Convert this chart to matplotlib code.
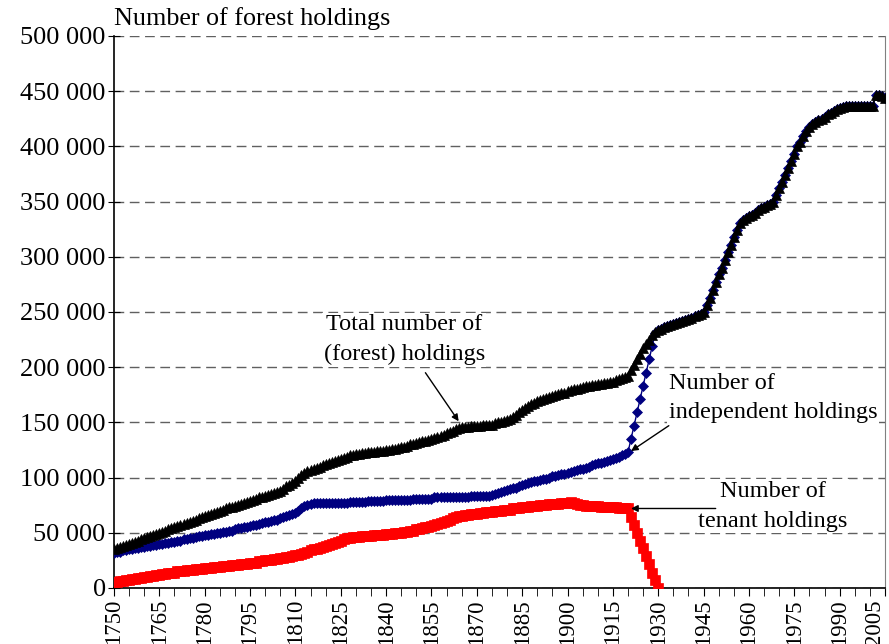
import matplotlib.pyplot as plt
from matplotlib.ticker import FuncFormatter, MultipleLocator, FixedLocator

plt.rcParams['font.family'] = ['Liberation Serif', 'DejaVu Serif']

years = list(range(1750, 2006))
tenant_years = list(range(1750, 1931))

# Total number of (forest) holdings, thousands, one row per decade
total_k = [
    35, 36, 37, 38, 39, 40, 41, 42, 43, 44,            # 1750
    45, 46, 47, 48, 49, 50, 51, 52, 53, 54,            # 1760
    55, 56, 57, 58, 59, 60, 61, 62, 63, 64,            # 1770
    65, 66, 67, 68, 69, 70, 71, 72, 73, 73,            # 1780
    74, 75, 76, 77, 78, 79, 80, 81, 82, 82,            # 1790
    83, 84, 85, 86, 87, 88, 90, 92, 93, 95,            # 1800
    97, 100, 102, 104, 106, 107, 108, 109, 110, 111,   # 1810
    112, 113, 114, 115, 116, 117, 118, 119, 120, 120,  # 1820
    121, 121, 122, 122, 123, 123, 123, 124, 124, 124,  # 1830
    125, 125, 126, 126, 127, 128, 128, 129, 130, 130,  # 1840
    131, 132, 133, 133, 134, 135, 136, 137, 138, 139,  # 1850
    140, 141, 142, 144, 145, 146, 146, 146, 147, 147,  # 1860
    147, 147, 148, 148, 148, 148, 149, 150, 150, 151,  # 1870
    152, 153, 155, 157, 159, 161, 163, 165, 167, 168,  # 1880
    169, 170, 171, 172, 173, 174, 175, 176, 177, 177,  # 1890
    178, 179, 180, 180, 181, 182, 183, 183, 184, 184,  # 1900
    185, 185, 186, 186, 187, 187, 188, 189, 190, 191,  # 1910
    192, 197, 202, 207, 212, 217, 221, 225, 229, 232,  # 1920
    234, 235, 236, 237, 238, 239, 240, 241, 242, 243,  # 1930
    244, 245, 246, 247, 248, 250, 256, 263, 270, 277,  # 1940
    284, 290, 297, 304, 311, 318, 324, 331, 333, 335,  # 1950
    337, 338, 340, 342, 344, 345, 347, 348, 350, 356,  # 1960
    362, 368, 374, 380, 387, 393, 400, 404, 409, 414,  # 1970
    418, 420, 422, 424, 425, 427, 429, 430, 432, 434,  # 1980
    435, 436, 437, 437, 437, 437, 437, 437, 437, 437,  # 1990
    437, 437, 447, 447, 446, 444,                      # 2000
]

# Number of independent holdings, thousands (1750-1929)
indep_k = [
    32, 33, 33, 34, 34, 35, 35, 36, 36, 37,            # 1750
    37, 38, 38, 39, 39, 40, 40, 41, 41, 42,            # 1760
    42, 43, 43, 44, 44, 45, 45, 46, 47, 47,            # 1770
    48, 48, 49, 49, 50, 50, 51, 51, 52, 52,            # 1780
    53, 54, 54, 55, 55, 56, 57, 57, 58, 59,            # 1790
    60, 60, 61, 62, 62, 63, 64, 65, 66, 67,            # 1800
    68, 70, 72, 74, 75, 76, 77, 77, 77, 77,            # 1810
    77, 77, 77, 77, 77, 77, 77, 77, 78, 78,            # 1820
    78, 78, 78, 78, 79, 79, 79, 79, 79, 79,            # 1830
    80, 80, 80, 80, 80, 80, 80, 80, 80, 81,            # 1840
    81, 81, 81, 81, 81, 81, 82, 82, 82, 82,            # 1850
    82, 82, 82, 82, 82, 82, 82, 82, 83, 83,            # 1860
    83, 83, 83, 83, 83, 84, 85, 86, 87, 88,            # 1870
    89, 90, 91, 91, 92, 93, 94, 95, 96, 97,            # 1880
    97, 98, 99, 99, 100, 101, 101, 102, 103, 103,      # 1890
    104, 105, 106, 107, 108, 108, 109, 110, 111, 112,  # 1900
    113, 113, 114, 115, 116, 117, 118, 119, 120, 121,  # 1910
    123, 135, 147, 159, 171, 183, 195, 207, 219, 231,  # 1920
]
# from 1930 on every holding is independent
indep_k = indep_k + total_k[180:]

# Number of tenant holdings, thousands (1750-1930)
tenant_k = [
    5, 5, 6, 6, 7, 7, 8, 8, 9, 9,                      # 1750
    10, 10, 11, 11, 12, 12, 13, 13, 14, 14,            # 1760
    14, 15, 15, 15, 16, 16, 16, 17, 17, 17,            # 1770
    18, 18, 18, 19, 19, 19, 20, 20, 20, 21,            # 1780
    21, 21, 22, 22, 22, 23, 23, 23, 24, 24,            # 1790
    25, 25, 25, 26, 26, 27, 27, 28, 28, 29,            # 1800
    30, 30, 31, 32, 33, 34, 35, 35, 36, 37,            # 1810
    38, 39, 40, 41, 42, 43, 44, 45, 45, 46,            # 1820
    46, 46, 47, 47, 47, 47, 48, 48, 48, 48,            # 1830
    49, 49, 49, 50, 50, 50, 51, 51, 52, 52,            # 1840
    53, 53, 54, 55, 55, 56, 57, 58, 59, 60,            # 1850
    61, 62, 63, 64, 65, 65, 66, 66, 67, 67,            # 1860
    67, 68, 68, 69, 69, 69, 70, 70, 70, 71,            # 1870
    71, 71, 72, 72, 72, 73, 73, 73, 74, 74,            # 1880
    74, 75, 75, 75, 76, 76, 76, 76, 77, 77,            # 1890
    77, 78, 77, 76, 75, 75, 74, 74, 74, 74,            # 1900
    74, 73, 73, 73, 73, 73, 73, 72, 72, 72,            # 1910
    72, 64, 57, 50, 43, 36, 29, 22, 14, 7,             # 1920
    0,                                                 # 1930
]

year_labels = list(range(1750, 2006, 15))

total = [v * 1000 for v in total_k]
indep = [v * 1000 for v in indep_k]
tenant = [v * 1000 for v in tenant_k]

fig = plt.figure(figsize=(8.89, 6.44), dpi=100)
ax = fig.add_axes([0.1282, 0.087, 0.8673, 0.8571])

ax.plot(tenant_years, tenant, color='#FF0000', lw=1, marker='s',
        markersize=7.5, markeredgewidth=0.5, zorder=3)
ax.plot(years, indep, color='#000080', lw=1, marker='D',
        markersize=5.5, markeredgewidth=0.5, zorder=4)
ax.plot(years, total, color='#000000', lw=1, marker='^',
        markersize=7.5, markeredgewidth=0.5, zorder=5)

ax.set_xlim(1750, 2005)
ax.set_ylim(0, 500000)

ax.yaxis.set_major_locator(MultipleLocator(50000))
ax.yaxis.set_major_formatter(FuncFormatter(
    lambda v, p: f'{int(v):,}'.replace(',', ' ')))
ax.xaxis.set_major_locator(FixedLocator(year_labels))
ax.xaxis.set_minor_locator(FixedLocator(range(1750, 2006, 5)))
ax.xaxis.set_major_formatter(FuncFormatter(lambda v, p: f'{int(v)}'))

ax.grid(axis='y', color='#606060', linestyle=(0, (7, 4)), lw=1)
ax.set_axisbelow(True)

ax.spines['top'].set_visible(False)
ax.spines['right'].set_color('#808080')
ax.spines['left'].set_linewidth(1.2)
ax.spines['bottom'].set_linewidth(1.2)

ax.tick_params(axis='y', direction='inout', length=8, labelsize=19, pad=2)
ax.tick_params(axis='x', which='both', direction='out', length=6,
               labelsize=16.5, labelrotation=90, pad=2)

# keep the last year label inside the figure
ax.get_xticklabels()[-1].set_horizontalalignment('right')

fig.text(0.128, 0.972, 'Number of forest holdings', fontsize=18.8,
         ha='left', va='center')

box = dict(facecolor='white', edgecolor='none', pad=1)
arrow = dict(arrowstyle='-|>', color='black', lw=1, mutation_scale=10,
             shrinkA=0, shrinkB=0)
note_size = 17.5

ax.annotate('Total number of\n(forest) holdings', xy=(1864, 151000),
            xytext=(1846, 225000), fontsize=note_size, ha='center',
            va='center', linespacing=1.55, bbox=box, zorder=6)
ax.annotate('', xy=(1864, 151000), xytext=(1853, 195000),
            arrowprops=arrow, zorder=6)

ax.annotate('Number of\nindependent holdings', xy=(1921, 124000),
            xytext=(1933.5, 172000), fontsize=note_size, ha='left',
            va='center', linespacing=1.55, bbox=box, zorder=6)
ax.annotate('', xy=(1921, 124000), xytext=(1933.5, 147000),
            arrowprops=arrow, zorder=6)

ax.annotate('Number of\ntenant holdings', xy=(1921, 72000),
            xytext=(1968, 74000), fontsize=note_size, ha='center',
            va='center', linespacing=1.55, bbox=box, zorder=6)
ax.annotate('', xy=(1921, 72000), xytext=(1949, 72000),
            arrowprops=arrow, zorder=6)

fig.savefig('out.png', dpi=100)
